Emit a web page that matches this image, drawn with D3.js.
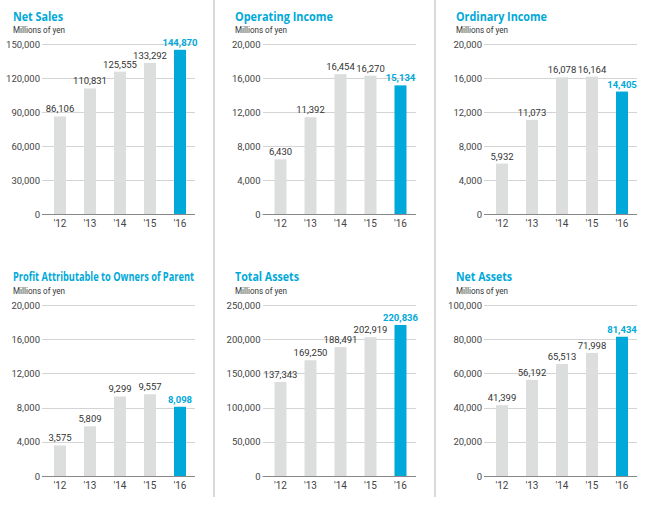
<!DOCTYPE html>
<html><head><meta charset="utf-8">
<script src="https://cdn.jsdelivr.net/npm/d3@7"></script>
<style>body{margin:0;background:#fff}svg{display:block}</style>
</head><body><svg id="c" width="650" height="530"></svg>
<script>
const years = ["'12","'13","'14","'15","'16"];
const titles = ["Net Sales","Operating Income","Ordinary Income","Profit Attributable to Owners of Parent","Total Assets","Net Assets"];
const unitLabel = "Millions of yen";
const netSales = [86106,110831,125555,133292,144870];
const operatingIncome = [6430,11392,16454,16270,15134];
const ordinaryIncome = [5932,11073,16078,16164,14405];
const profitOwners = [3575,5809,9299,9557,8098];
const totalAssets = [137343,169250,188491,202919,220836];
const netAssets = [41399,56192,65513,71998,81434];
const ticksNetSales = [0,30000,60000,90000,120000,150000];
const ticks20k = [0,4000,8000,12000,16000,20000];
const ticksTotalAssets = [0,50000,100000,150000,200000,250000];
const ticksNetAssets = [0,20000,40000,60000,80000,100000];

const panels = [
  {title:titles[0], values:netSales, ticks:ticksNetSales, col:0,row:0, tw:50},
  {title:titles[1], values:operatingIncome, ticks:ticks20k, col:1,row:0, tw:98},
  {title:titles[2], values:ordinaryIncome, ticks:ticks20k, col:2,row:0, tw:91},
  {title:titles[3], values:profitOwners, ticks:ticks20k, col:0,row:1, tw:181},
  {title:titles[4], values:totalAssets, ticks:ticksTotalAssets, col:1,row:1, tw:64},
  {title:titles[5], values:netAssets, ticks:ticksNetAssets, col:2,row:1, tw:56}
];
const BLUE="#00a9d9", GRAY="#dcdddd";
const colX0=[45,265.5,487], colTitleX=[13,235,456];
const rowY=[{top:44,bot:214,title:21,unit:33,cat:227},{top:305,bot:476,title:281,unit:294,cat:489}];
const svg=d3.select("#c");
const fmt=d3.format(",");
const font="Roboto, 'Noto Sans', sans-serif";

// separators
[214,435].forEach(x=>svg.append("line").attr("x1",x).attr("x2",x).attr("y1",0).attr("y2",497).attr("stroke","#b4b4b4").attr("stroke-width",1));

panels.forEach(p=>{
  const x0=colX0[p.col], r=rowY[p.row];
  const g=svg.append("g");
  const x=d3.scaleBand().domain(years).range([x0,x0+150]).paddingInner(0.6).paddingOuter(0.3);
  const y=d3.scaleLinear().domain([0,d3.max(p.ticks)]).range([r.bot,r.top]);
  g.append("text").attr("x",colTitleX[p.col]).attr("y",r.title).text(p.title)
    .attr("fill",BLUE).attr("font-family","'Open Sans', sans-serif").attr("font-weight","bold").attr("font-size",12.5)
    .attr("textLength",p.tw).attr("lengthAdjust","spacingAndGlyphs");
  g.append("text").attr("x",colTitleX[p.col]).attr("y",r.unit).text(unitLabel)
    .attr("fill","#333").attr("font-family",font).attr("font-size",9)
    .attr("textLength",52).attr("lengthAdjust","spacingAndGlyphs");
  const ax=d3.axisLeft(y).tickValues(p.ticks).tickSize(-(150+3)).tickFormat(fmt).tickPadding(2);
  const ag=g.append("g").attr("transform",`translate(${x0-3},0)`).call(ax);
  ag.select(".domain").remove();
  ag.selectAll(".tick line").attr("stroke",d=>d===0?"#888":"#d4d4d4").attr("stroke-width",1)
    .attr("shape-rendering","crispEdges");
  ag.selectAll(".tick text").attr("fill","#444").attr("font-family",font).attr("font-size",9.5)
    .attr("x",-2);
  g.selectAll("rect.bar").data(p.values).enter().append("rect")
    .attr("x",(d,i)=>x(years[i])).attr("width",x.bandwidth())
    .attr("y",d=>y(d)).attr("height",d=>y(0)-y(d))
    .attr("fill",(d,i)=>i===p.values.length-1?BLUE:GRAY);
  g.append("line").attr("x1",x0-3).attr("x2",x0+150).attr("y1",y(0)+0.5).attr("y2",y(0)+0.5).attr("stroke","#888");
  g.selectAll("text.val").data(p.values).enter().append("text")
    .attr("x",(d,i)=>x(years[i])+x.bandwidth()/2).attr("y",d=>y(d)-4)
    .attr("text-anchor","middle").text(d=>fmt(d))
    .attr("font-family",font).attr("font-size",9.5)
    .attr("font-weight",(d,i)=>i===p.values.length-1?"bold":"normal")
    .attr("fill",(d,i)=>i===p.values.length-1?BLUE:"#333");
  g.selectAll("text.cat").data(years).enter().append("text")
    .attr("x",d=>x(d)+x.bandwidth()/2).attr("y",r.cat).attr("text-anchor","middle")
    .text(d=>d).attr("font-family",font).attr("font-size",10).attr("fill","#444");
});
</script></body></html>
